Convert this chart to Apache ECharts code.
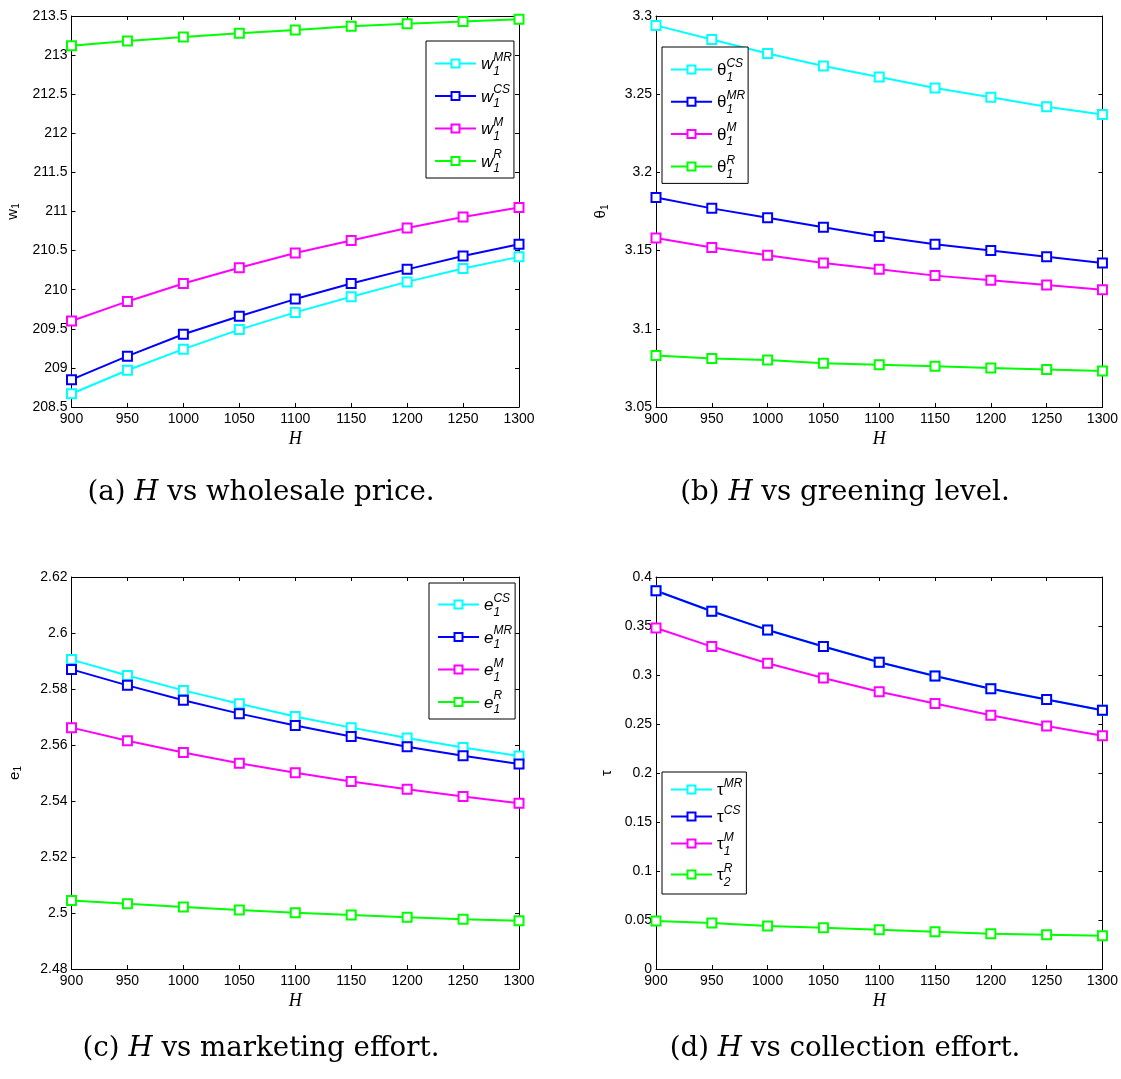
<!DOCTYPE html>
<html><head><meta charset="utf-8">
<script src="https://cdn.jsdelivr.net/npm/echarts@6/dist/echarts.min.js"></script>
<style>html,body{margin:0;padding:0;background:#fff}#c{width:1121px;height:1079px}</style>
</head><body><div id="c"></div>
<script>
// ---------- data ----------
const H = [900, 950, 1000, 1050, 1100, 1150, 1200, 1250, 1300];
const xRange = [900, 1300, 50];

// (a) wholesale price
const w1MR = [208.67, 208.97, 209.24, 209.49, 209.71, 209.91, 210.10, 210.27, 210.42];
const w1CS = [208.85, 209.15, 209.43, 209.66, 209.88, 210.08, 210.26, 210.43, 210.58];
const w1M  = [209.60, 209.85, 210.08, 210.28, 210.47, 210.63, 210.79, 210.93, 211.05];
const w1R  = [213.12, 213.18, 213.23, 213.28, 213.32, 213.37, 213.40, 213.43, 213.46];
const yRangeA = [208.5, 213.5, 0.5];

// (b) greening level
const th1CS = [3.294, 3.285, 3.276, 3.268, 3.261, 3.254, 3.248, 3.242, 3.237];
const th1MR = [3.184, 3.177, 3.171, 3.165, 3.159, 3.154, 3.150, 3.146, 3.142];
const th1M  = [3.158, 3.152, 3.147, 3.142, 3.138, 3.134, 3.131, 3.128, 3.125];
const th1R  = [3.083, 3.081, 3.080, 3.078, 3.077, 3.076, 3.075, 3.074, 3.073];
const yRangeB = [3.05, 3.3, 0.05];

// (c) marketing effort
const e1CS = [2.5905, 2.5848, 2.5795, 2.5747, 2.5702, 2.5662, 2.5625, 2.5591, 2.5561];
const e1MR = [2.5870, 2.5813, 2.5760, 2.5712, 2.5670, 2.5630, 2.5594, 2.5562, 2.5532];
const e1M  = [2.5662, 2.5615, 2.5573, 2.5535, 2.5501, 2.5470, 2.5442, 2.5416, 2.5392];
const e1R  = [2.5045, 2.5033, 2.5021, 2.5011, 2.5001, 2.4993, 2.4985, 2.4978, 2.4972];
const yRangeC = [2.48, 2.62, 0.02];

// (d) collection effort
const tauMR = [0.386, 0.365, 0.346, 0.329, 0.313, 0.299, 0.286, 0.275, 0.264];
const tauCS = [0.386, 0.365, 0.346, 0.329, 0.313, 0.299, 0.286, 0.275, 0.264];
const tau1M = [0.348, 0.329, 0.312, 0.297, 0.283, 0.271, 0.259, 0.248, 0.238];
const tau2R = [0.049, 0.047, 0.044, 0.042, 0.040, 0.038, 0.036, 0.035, 0.034];
const yRangeD = [0, 0.4, 0.05];

// legend labels: [main, superscript, subscript]
const legA = [['w', 'MR', '1'], ['w', 'CS', '1'], ['w', 'M', '1'], ['w', 'R', '1']];
const legB = [['θ', 'CS', '1'], ['θ', 'MR', '1'], ['θ', 'M', '1'], ['θ', 'R', '1']];
const legC = [['e', 'CS', '1'], ['e', 'MR', '1'], ['e', 'M', '1'], ['e', 'R', '1']];
const legD = [['τ', 'MR', ''], ['τ', 'CS', ''], ['τ', 'M', '1'], ['τ', 'R', '2']];

const yNames = [['w', '1'], ['θ', '1'], ['e', '1'], ['τ', '']];
const xName = 'H';
const captions = [
  ['(a) ', 'H', ' vs wholesale price.'],
  ['(b) ', 'H', ' vs greening level.'],
  ['(c) ', 'H', ' vs marketing effort.'],
  ['(d) ', 'H', ' vs collection effort.']
];
const colors = ['#00ffff', '#0000ff', '#ff00ff', '#00ff00'];

// ---------- layout ----------
const SANS = 'Liberation Sans, Arial, sans-serif';
const grids = [
  {left: 71.5, top: 16, width: 447.5, height: 391},
  {left: 656, top: 16, width: 447, height: 391},
  {left: 71.5, top: 577, width: 447.5, height: 392},
  {left: 656, top: 577, width: 447, height: 392}
];
const legendPos = [
  {left: 426, top: 41, italic: true, gap: 4, pad: [8, 2, 3, 8]},
  {left: 662, top: 47, italic: false, gap: 3.8, pad: [8, 3, 3, 8]},
  {left: 429, top: 583, italic: true, gap: 4, pad: [7, 3, 3, 8]},
  {left: 662, top: 772, italic: false, gap: 2.5, pad: [3, 4, 5.5, 8]}
];
const yNameGap = [52, 48, 50, 42];
const captionPos = [[256, 474], [840, 474], [256, 1030], [840, 1030]];

const panels = [
  {vals: [w1MR, w1CS, w1M, w1R], leg: legA, yr: yRangeA},
  {vals: [th1CS, th1MR, th1M, th1R], leg: legB, yr: yRangeB},
  {vals: [e1CS, e1MR, e1M, e1R], leg: legC, yr: yRangeC},
  {vals: [tauMR, tauCS, tau1M, tau2R], leg: legD, yr: yRangeD}
];

const xAxes = [], yAxes = [], series = [], legends = [], titles = [];
const labelMap = {};
const plain = v => String(+v.toFixed(6));

panels.forEach((p, gi) => {
  const tick = {inside: true, length: 4, lineStyle: {color: '#000', width: 1}};
  const line = {onZero: false, lineStyle: {color: '#000', width: 1}};
  xAxes.push({
    gridIndex: gi, type: 'value', min: xRange[0], max: xRange[1], interval: xRange[2],
    position: 'bottom', axisLine: line, axisTick: tick, splitLine: {show: false},
    axisLabel: {color: '#000', fontSize: 14, fontFamily: SANS, margin: 5, formatter: plain},
    name: xName, nameLocation: 'middle', nameGap: 23,
    nameTextStyle: {color: '#000', fontFamily: 'Liberation Serif, serif', fontStyle: 'italic', fontSize: 18}
  });
  xAxes.push({
    gridIndex: gi, type: 'value', min: xRange[0], max: xRange[1], interval: xRange[2],
    position: 'top', axisLine: line, axisTick: tick, splitLine: {show: false},
    axisLabel: {show: false}
  });
  const yn = yNames[gi];
  yAxes.push({
    gridIndex: gi, type: 'value', min: p.yr[0], max: p.yr[1], interval: p.yr[2],
    position: 'left', axisLine: line, axisTick: tick, splitLine: {show: false},
    axisLabel: {color: '#000', fontSize: 14, fontFamily: SANS, margin: 4, formatter: plain},
    name: yn[1] ? '{m|' + yn[0] + '}{s|' + yn[1] + '}' : '{m|' + yn[0] + '}',
    nameLocation: 'middle', nameRotate: 90, nameGap: yNameGap[gi],
    nameTextStyle: {color: '#000', fontFamily: SANS, rich: {
      m: {fontSize: 15, fontFamily: SANS, color: '#000', lineHeight: 14},
      s: {fontSize: 10, fontFamily: SANS, color: '#000', lineHeight: 14, padding: [8, 0, 0, 0]}
    }}
  });
  yAxes.push({
    gridIndex: gi, type: 'value', min: p.yr[0], max: p.yr[1], interval: p.yr[2],
    position: 'right', axisLine: line, axisTick: tick, splitLine: {show: false},
    axisLabel: {show: false}
  });

  const names = [];
  p.vals.forEach((vals, si) => {
    const nm = 'p' + gi + 's' + si;
    names.push(nm);
    labelMap[nm] = p.leg[si];
    series.push({
      type: 'line', name: nm, xAxisIndex: gi * 2, yAxisIndex: gi * 2,
      data: H.map((h, i) => [h, vals[i]]),
      symbol: 'emptyRect', symbolSize: 9, showAllSymbol: true,
      lineStyle: {width: 2, color: colors[si]},
      itemStyle: {color: colors[si], borderWidth: 1.6},
      emphasis: {disabled: true}, animation: false, z: 2
    });
  });

  const lp = legendPos[gi];
  const it = lp.italic ? 'italic' : 'normal';
  legends.push({
    orient: 'vertical', left: lp.left, top: lp.top, z: 20,
    data: names, itemWidth: 41, itemHeight: 10, itemGap: lp.gap,
    padding: lp.pad, borderColor: '#000', borderWidth: 1, borderRadius: 0,
    backgroundColor: '#fff', selectedMode: false,
    formatter: function (name) {
      const l = labelMap[name];
      const line1 = '{h|' + l[0] + '}{sp|' + l[1] + '}';
      const line2 = l[2] ? '{m|' + l[0] + '}{sb|' + l[2] + '}' : '{m|' + l[0] + '}{ns| }';
      return line1 + '\n' + line2;
    },
    textStyle: {color: '#000', fontFamily: SANS, rich: {
      h: {fontSize: 17, fontStyle: it, fontFamily: SANS, color: 'transparent', lineHeight: 2},
      sp: {fontSize: 12, fontStyle: 'italic', fontFamily: SANS, color: '#000', lineHeight: 2},
      m: {fontSize: 17, fontStyle: it, fontFamily: SANS, color: '#000', lineHeight: 12},
      sb: {fontSize: 12, fontStyle: 'italic', fontFamily: SANS, color: '#000', lineHeight: 12, padding: [14, 0, 0, 0]},
      ns: {fontSize: 12, fontFamily: SANS, color: '#000', lineHeight: 12, padding: [6, 0, 0, 0]}
    }}
  });

  const c = captions[gi];
  titles.push({
    left: captionPos[gi][0], top: captionPos[gi][1], textAlign: 'center',
    text: c[0] + '{i|' + c[1] + '}' + c[2],
    textStyle: {color: '#000', fontFamily: 'DejaVu Serif, serif', fontSize: 27.7, fontWeight: 'normal',
      rich: {i: {fontFamily: 'DejaVu Serif, serif', fontStyle: 'italic', fontSize: 27.7, color: '#000'}}}
  });
});

const chart = echarts.init(document.getElementById('c'), null, {renderer: 'canvas'});
chart.setOption({
  backgroundColor: '#fff',
  animation: false,
  title: titles,
  grid: grids.map(g => Object.assign({containLabel: false}, g)),
  xAxis: xAxes,
  yAxis: yAxes,
  legend: legends,
  series: series
});
</script>
</body></html>
